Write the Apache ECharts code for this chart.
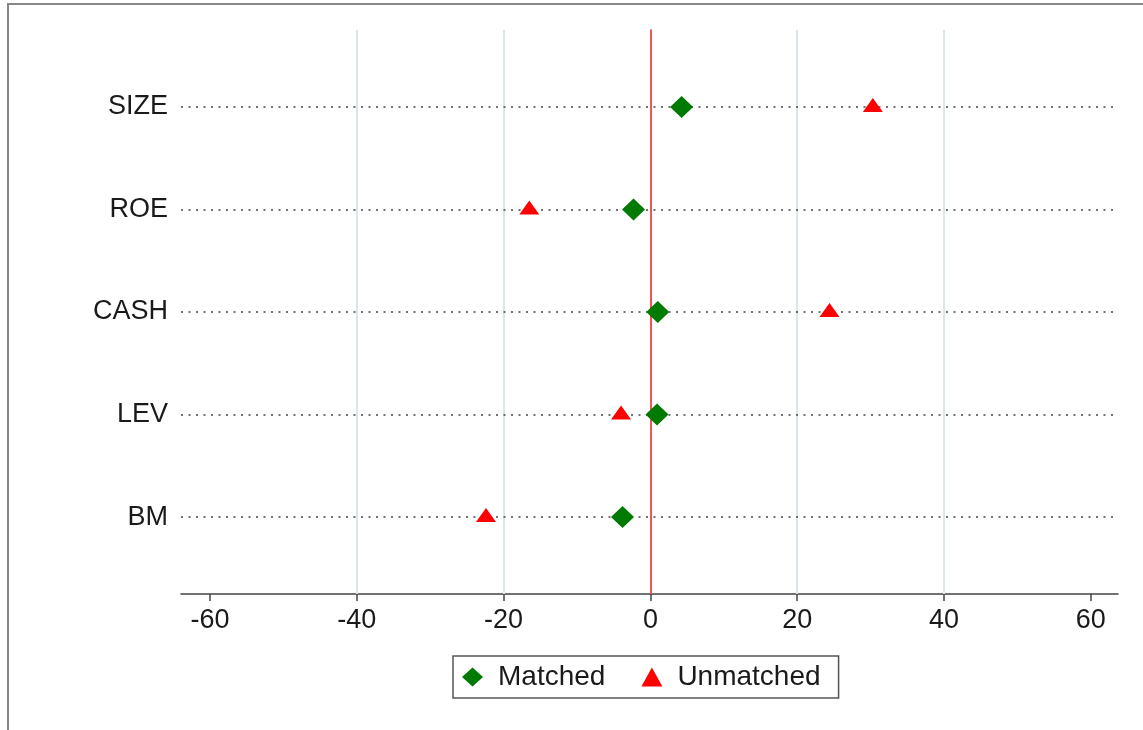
<!DOCTYPE html>
<html><head><meta charset="utf-8">
<script src="https://cdn.jsdelivr.net/npm/echarts@6/dist/echarts.min.js"></script>
<style>html,body{margin:0;padding:0;background:#fff}#c{width:1143px;height:730px}</style>
</head><body><div id="c"></div>
<script>
var categories = ['BM', 'LEV', 'CASH', 'ROE', 'SIZE'];
var matched = [-3.8, 0.9, 1.0, -2.3, 4.25];
var unmatched = [-22.4, -4.0, 24.4, -16.5, 30.3];
var xTicks = [-60, -40, -20, 0, 20, 40, 60];
var gridXs = [-40, -20, 20, 40];

var chart = echarts.init(document.getElementById('c'));
var font = 'Liberation Sans, Arial, sans-serif';
function pts(vals){ return vals.map(function(v,i){ return [v, i+1]; }); }
var pos = categories.map(function(c,i){ return i+1; });

chart.setOption({
  animation: false,
  backgroundColor: '#fff',
  grid: { left: 181, right: 25, top: 30, bottom: 136 },
  xAxis: {
    type: 'value', min: -63.95, max: 63.7,
    axisLine: { show: true, lineStyle: { color: '#444', width: 1.5 } },
    axisTick: { show: true, customValues: xTicks, length: 7, lineStyle: { color: '#444', width: 1.5 } },
    axisLabel: { customValues: xTicks, fontSize: 27, color: '#1a1a1a', fontFamily: font, margin: 13 },
    splitLine: { show: false }
  },
  yAxis: {
    type: 'value', min: 0.25, max: 5.75,
    axisLine: { show: true, lineStyle: { color: '#444', width: 1.5 } },
    axisTick: { show: false, customValues: pos },
    axisLabel: { customValues: pos, fontSize: 27, color: '#1a1a1a', fontFamily: font, margin: 13,
      padding: [4, 0, 0, 0],
      formatter: function(v){ var i = Math.round(v) - 1; return categories[i] || ''; } },
    splitLine: { show: false }
  },
  legend: {
    bottom: 32, left: 453,
    data: [{ name: 'Matched', icon: 'diamond' }, { name: 'Unmatched', icon: 'triangle' }],
    itemWidth: 21, itemHeight: 19, itemGap: 36,
    textStyle: { fontSize: 28, color: '#1a1a1a', fontFamily: font, padding: [0, 0, 0, 10] },
    borderColor: '#555', borderWidth: 1.5, padding: [7, 18, 7, 9]
  },
  series: [
    {
      name: 'guides', type: 'scatter', data: [], silent: true,
      markLine: {
        silent: true, symbol: 'none', label: { show: false },
        data: gridXs.map(function(x){ return { xAxis: x, lineStyle: { color: '#d9e6ea', width: 2, type: 'solid' } }; })
          .concat(pos.map(function(y){ return { yAxis: y, lineStyle: { color: '#444', width: 1.5, type: [2, 5.5] } }; }))
          .concat([{ xAxis: 0, lineStyle: { color: '#ee5555', width: 2, type: 'solid' } }])
      }
    },
    {
      name: 'Matched', type: 'scatter', symbol: 'diamond', symbolSize: [23, 22],
      itemStyle: { color: '#007a00', opacity: 1 }, data: pts(matched), z: 5
    },
    {
      name: 'Unmatched', type: 'scatter', symbol: 'triangle', symbolSize: [20, 14], symbolOffset: [0, -2],
      itemStyle: { color: '#ff0000', opacity: 1 }, data: pts(unmatched), z: 5
    }
  ],
  graphic: [
    { type: 'polyline', shape: { points: [[8, 730], [8, 4], [1143, 4]] }, style: { stroke: '#888', lineWidth: 2, fill: null } }
  ]
});
</script></body></html>
